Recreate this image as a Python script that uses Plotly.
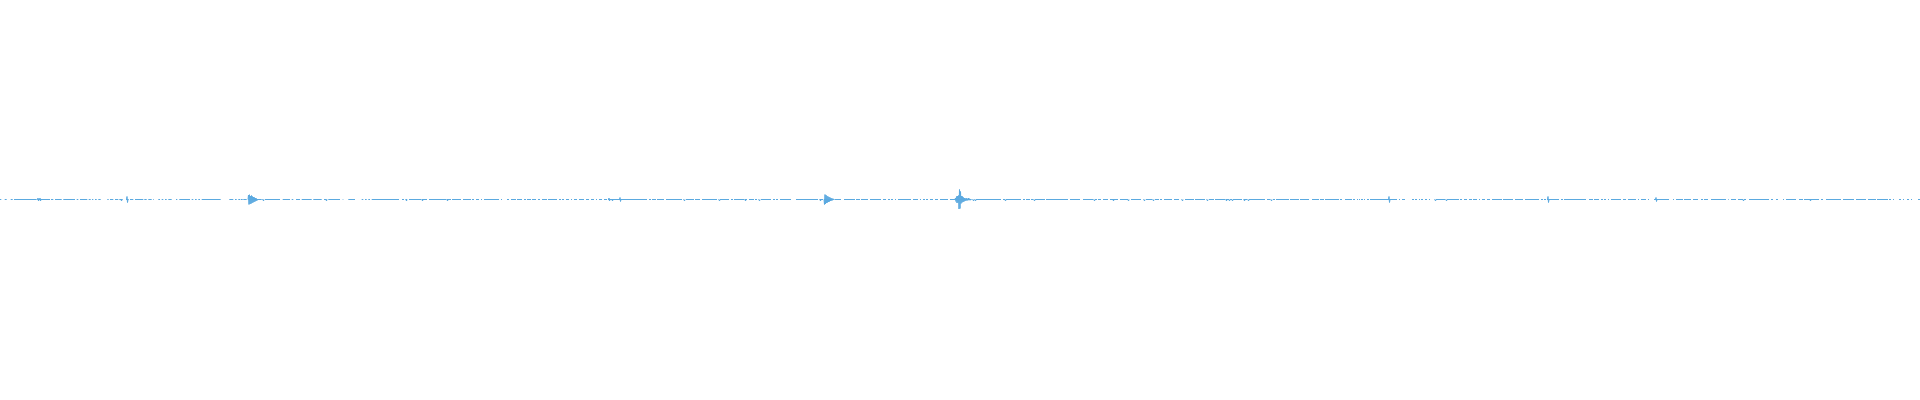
import plotly.graph_objects as go

# Visible (non-missing) stretches of the trace, [start, end] in samples
segments_a = [[0,1.3],[4.7,6.7],[10.7,12.7],[14,36.7],[37.3,50],[51,53.3],[55,61.7],[63.3,75],[76.7,78.3],
              [80,87.3],[88.7,90.7],[92,93.3],[95,96.7],[98.3,100.7],[107.3,108.7],[110,113.3],[115,118.3],
              [119.3,122.7],[126,128.7],[130,133.3],[135,143.3],[144.3,146.7],[148.3,151.7],[153.3,154],
              [158.3,160],[161.7,163.3],[165,166.7],[168.3,171.7],[176,177.3],[179.3,190],[191.7,193.3],
              [195,196.7],[198.3,200],[201.7,220.7],[229.3,233.3],[235,236.7],[238.3,240],[240.7,242.7],
              [243.3,246.7],[248.3,261.7],[262.7,263.3],[265,280],[282.7,290],[291.7,293.3],[296,300],
              [301.7,311.7],[313.3,321.7],[324,326.7],[328.3,340],[342.7,343.3],[348.3,355],[361.7,363.3],
              [365,366.7],[368.3,370],[371.7,384]]
segments_b = [[384,399],[402,404],[406,407],[409,421],[422,427],[429,446],[447,451],[452,461],[463,471],
              [472,474],[476,479],[481,482],[484,499],[501,502],[507,509],[511,516],[517,522],[524,526],
              [527,531],[532,536],[538,540],[542,547],[548,557],[559,561],[562,564],[566,569],[571,572],
              [574,577],[579,584],[586,589],[591,594],[596,597],[599,602],[604,607],[608,619],[619,622],
              [622,647],[649,651],[652,656],[657,664],[666,682],[686,694],[695,700],[702,717],[720,729],
              [731,733],[734,744],[745,747],[749,754],[755,757],[761,768]]
segments_c = [[768,771],[773,775],[776,778],[780,791],[796,818],[820,823],[824,833],[835,841],[844,855],
              [856,860],[861,868],[870,881],[883,886],[888,890],[891,893],[895,896],[898,911],[913,918],
              [920,921],[923,925],[926,928],[930,933],[935,938],[940,948],[950,971],[976,1001],[1003,1005],
              [1006,1021],[1023,1025],[1026,1030],[1031,1033],[1035,1045],[1046,1068],[1070,1080],
              [1083,1093],[1095,1097],[1098,1101],[1103,1108],[1110,1118],[1120,1128],[1131,1141],[1146,1152]]
segments_d = [[1155,1159],[1160,1162],[1164,1172],[1174,1179],[1185,1194],[1195,1205],[1209,1214],
              [1215,1225],[1226,1229],[1230,1232],[1233,1242],[1244,1247],[1249,1265],[1267,1270],
              [1273,1275],[1276,1289],[1290,1299],[1300,1309],[1312,1319],[1320,1324],[1325,1339],
              [1340,1342],[1345,1352],[1353,1355],[1357,1358],[1359,1360],[1361,1363],[1364,1365],
              [1367,1369],[1370,1397],[1399,1400],[1402,1405],[1412,1414],[1415,1417],[1419,1420],
              [1421,1423],[1425,1427],[1429,1430],[1436,1445],[1447,1459],[1460,1462],[1464,1467],
              [1469,1472],[1473,1477],[1479,1480],[1482,1485],[1487,1490],[1492,1502],[1503,1513],
              [1515,1523],[1525,1536]]
segments_e = [[1536,1539],[1541,1543],[1544,1546],[1547,1559],[1561,1563],[1564,1586],[1589,1593],
              [1594,1599],[1601,1603],[1604,1606],[1608,1609],[1611,1621],[1623,1626],[1628,1636],
              [1638,1639],[1641,1646],[1648,1649],[1654,1669],[1673,1674],[1676,1683],[1684,1691],
              [1693,1698],[1701,1703],[1704,1708],[1711,1726],[1728,1728.7],[1731,1736],[1738,1743],
              [1744,1746],[1749,1769],[1771,1773],[1776,1778],[1783,1784],[1786,1796],[1799,1803],
              [1804,1819],[1821,1823],[1826,1841],[1843,1854],[1856,1866],[1868,1876],[1877,1888],
              [1889,1891],[1893,1894],[1899,1901],[1903,1904],[1907,1909],[1911,1912],[1918,1920]]

# Short wiggles: sample, upward amplitude, downward amplitude
spike_x    = [38, 40, 121, 127, 263, 326, 406, 422, 447, 609, 612, 620, 684, 719, 745, 759, 820, 973, 975,
              1005, 1034, 1094, 1113, 1128, 1144, 1153, 1182, 1207, 1226, 1229, 1232, 1244, 1248, 1271,
              1389, 1435, 1446, 1548, 1656, 1743, 1810]
spike_up   = [1.5, 1.5, 0, 3, 0, 0, 0, 0, 0, 1.5, 0, 2, 0, 0, 0, 0, 0, 0, 0,
              0, 0, 0, 0, 0, 0, 0, 0, 0, 0, 0, 0, 0, 0, 0,
              3, 0, 0, 3, 2, 0, 0]
spike_down = [1.5, 1.5, 1.5, 3, 1.5, 1.5, 1.5, 1.5, 1.5, 1.5, 1.5, 2, 1.5, 1.5, 1.5, 1.5, 1.5, 1.5, 1.5,
              1.5, 1.5, 1.5, 1.5, 1.5, 1.5, 1.5, 1.5, 1.5, 1.5, 1.5, 1.5, 1.5, 1.5, 1.5,
              3, 1.5, 1.5, 3, 2, 1.5, 1.5]

# Event bursts: onset sample and amplitudes every half sample
burst1_start = 248
burst1 = [0, 4.5, -5, 4.8, -4.5, 3.5, -4.2, 4, -3.5, 3, -3, 2.5, -2.5, 2, -2, 1.5, -1.5, 1, -1, 0.5, 0]
burst2_start = 824
burst2 = [0, -5, 5, -4.5, 4.5, -3.5, 3.5, -3, 3, -2.5, 2.5, -2, 2, -1.5, 1.5, -1, 1, -0.8, 0.8, -0.5, 0.5, 0]
burst3_start = 955
burst3 = [0, 1.5, -2, 3, -3.5, 3.5, -3, 4, -9.5, 10, -9, 8, -4, 3.5, -3, 3, -2.5, 2, -2, 1.5, -1.5, 1, -1,
          1.2, -1, 0.8, -0.8, 1.5, -0.5, 0.8, -0.8, 0.5, -0.5, 0]

COLOR = "#5aa9e0"

bx, by = [], []
for seg in segments_a + segments_b + segments_c + segments_d + segments_e:
    bx += [seg[0], seg[1], None]
    by += [0, 0, None]

wx, wy = [], []
for x, u, d in zip(spike_x, spike_up, spike_down):
    wx += [x - 0.5, x, x + 0.5, x + 1, None]
    wy += [0, u, -d, 0, None]
for start, vals in [(burst1_start, burst1), (burst2_start, burst2), (burst3_start, burst3)]:
    wx += [start + 0.5 * i for i in range(len(vals))] + [None]
    wy += vals + [None]

fig = go.Figure()
fig.add_trace(go.Scatter(x=bx, y=by, mode="lines", line=dict(color=COLOR, width=1),
                         connectgaps=False, hoverinfo="skip"))
fig.add_trace(go.Scatter(x=wx, y=wy, mode="lines", line=dict(color=COLOR, width=1),
                         connectgaps=False, hoverinfo="skip"))

fig.update_layout(
    width=1920, height=400,
    margin=dict(l=0, r=0, t=0, b=0),
    paper_bgcolor="white", plot_bgcolor="white",
    showlegend=False,
    xaxis=dict(range=[0, 1920], visible=False, showgrid=False, zeroline=False),
    yaxis=dict(range=[-200.5, 199.5], visible=False, showgrid=False, zeroline=False),
)
fig.write_html("out.html", config={"displayModeBar": False},
               post_script="document.body.style.margin='0';document.body.style.overflow='hidden';")
